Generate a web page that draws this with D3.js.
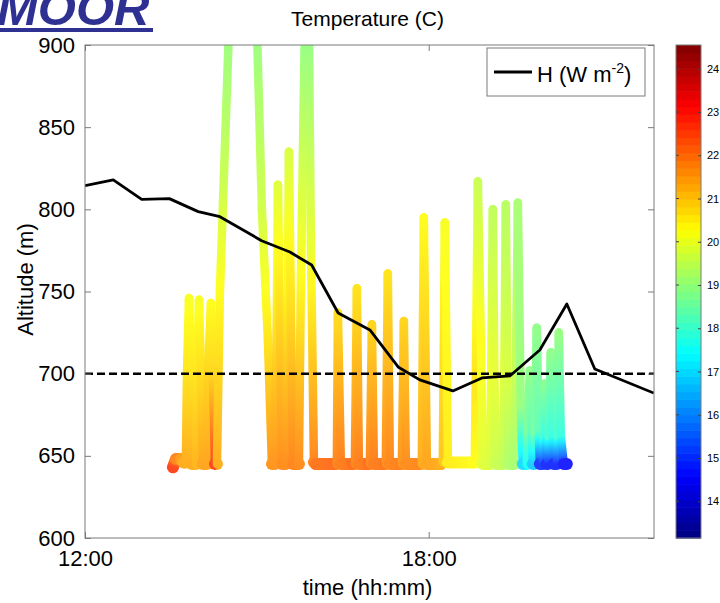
<!DOCTYPE html>
<html><head><meta charset="utf-8">
<script src="https://cdn.jsdelivr.net/npm/d3@7"></script>
<style>
body{margin:0;background:#fff}
svg{display:block}
text{font-family:"Liberation Sans",Arial,Helvetica,sans-serif}
</style>
</head><body>
<svg id="c" width="720" height="603"></svg>
<script>
// ---------- DATA ----------
// balloon trace: time (minutes after 12:00), altitude (m), temperature (C)
const traceMin = [92.1,95.3,100.5,103.7,
  105.7,106.8,108.9,111.0,112.0,
  116.2,117.3,119.4,121.5,123.5,
  127.7,128.8,131.9,134.0,136.1,
  138.2,141.3,145.5,150.8,
  180.1,185.3,191.6,195.8,
  198.9,201.0,202.1,204.2,206.3,
  210.4,212.5,213.6,215.7,217.8,
  224.1,226.2,230.3,234.5,236.6,239.8,
  241.9,261.8,
  263.8,264.9,268.0,280.6,
  282.7,284.8,286.9,297.3,
  298.4,300.5,302.6,314.1,
  315.1,317.2,319.3,330.9,
  331.9,334.0,336.1,350.7,
  352.8,354.9,358.1,372.7,
  374.8,376.9,380.1,406.2,
  408.3,409.4,411.5,414.6,416.7,
  424.0,425.5,427.2,428.8,430.3,
  437.6,439.2,440.8,442.4,443.9,
  449.2,451.3,453.4,456.5,457.5,458.6,
  462.8,463.8,465.9,468.0,469.1,
  470.1,471.2,473.2,475.3,476.4,
  479.5,480.6,481.6,482.7,483.7,
  484.8,485.8,487.9,490.0,491.0,
  494.2,495.2,496.3,498.4,501.5,504.7];
const traceAlt = [643,648,648,646,
  646,700,746,700,645,
  645,700,745,700,645,
  645,700,743,700,645,
  645,750,820,910,
  910,800,720,645,
  645,740,815,730,645,
  645,750,835,740,645,
  645,760,910,910,780,646,
  645,645,
  645,737,645,645,
  645,752,645,645,
  645,730,645,645,
  645,761,645,645,
  645,732,645,645,
  645,795,645,645,
  646,792,646,646,
  646,700,817,720,645,
  645,700,800,700,645,
  645,700,803,700,645,
  645,700,804,680,660,645,
  645,665,702,665,645,
  645,665,728,665,645,
  645,662,694,662,645,
  645,662,713,662,645,
  645,662,725,662,645,645];
const traceTemp = [22.6,21.8,21.5,21.3,
  21.3,20.6,20.2,20.6,21.3,
  21.2,20.6,20.2,20.7,21.4,
  21.4,20.8,20.3,20.8,22.6,
  21.3,20.3,19.6,19.0,
  19.0,19.7,20.6,21.6,
  21.6,20.5,19.9,20.8,21.7,
  21.7,20.4,19.8,20.7,21.8,
  21.7,20.3,18.9,18.9,20.0,21.8,
  22.0,22.1,
  21.8,20.7,21.9,22.1,
  21.8,20.6,21.9,22.1,
  21.8,20.8,21.9,22.0,
  21.7,20.6,21.8,21.9,
  21.6,20.8,21.7,21.8,
  21.3,20.3,21.4,21.3,
  21.0,20.2,20.5,20.3,
  20.3,20.6,19.6,20.3,19.9,
  19.8,20.1,19.5,20.0,19.6,
  19.5,19.9,19.4,19.8,19.3,
  19.2,19.6,19.2,19.0,17.8,17.0,
  17.5,18.6,18.9,18.3,16.8,
  16.8,18.6,18.9,18.3,15.0,
  15.0,18.0,18.8,17.8,14.8,
  14.8,18.0,18.9,17.8,14.8,
  14.8,18.0,19.0,17.8,14.6,14.6];
// sensible heat flux H (plotted in altitude-axis units)
const hMin   = [0,29.6,59.4,88.3,118.6,141.3,185.0,214.6,237.4,265.2,298.4,328.0,350.7,385.3,415.7,445.0,476.4,504.7,534.0,595.7];
const hValue = [814.4,817.9,806.1,806.5,798.6,795.5,780.9,774.0,766.1,736.9,726.6,704.1,696.2,689.5,697.4,698.6,714.4,742.4,702.8,688.2];
const refLevel = 700;
const yTicks = [600,650,700,750,800,850,900];
const xTicks = [0,360];
const xTickLabels = ["12:00","18:00"];
const cbTicks = [14,15,16,17,18,19,20,21,22,23,24];
const tempDomain = [13.15,24.55];
const timeDomain = [0,596];
const altDomain = [600,900];

// ---------- LAYOUT ----------
const L=85,R=654,T=45,B=538;
const svg=d3.select("#c");
const x=d3.scaleLinear().domain(timeDomain).range([L,R]);
const y=d3.scaleLinear().domain(altDomain).range([B,T]);
function jet(t){
  const c=v=>Math.max(0,Math.min(1,v));
  return d3.rgb(255*c(1.5-Math.abs(4*t-3)),255*c(1.5-Math.abs(4*t-2)),255*c(1.5-Math.abs(4*t-1))).toString();
}
const color=d3.scaleSequential(jet).domain(tempDomain);

const defs=svg.append("defs");
defs.append("clipPath").attr("id","plotclip").append("rect")
  .attr("x",L).attr("y",T).attr("width",R-L).attr("height",B-T);

// ---------- TRACE ----------
const gTrace=svg.append("g").attr("clip-path","url(#plotclip)").attr("opacity",0.87);
d3.range(traceMin.length-1).forEach(i=>{
  const x1=x(traceMin[i]),y1=y(traceAlt[i]),x2=x(traceMin[i+1]),y2=y(traceAlt[i+1]);
  const t1=traceTemp[i],t2=traceTemp[i+1];
  const ground=traceAlt[i]<=651&&traceAlt[i+1]<=651;
  const gid="sg"+i;
  const gr=defs.append("linearGradient").attr("id",gid).attr("gradientUnits","userSpaceOnUse")
    .attr("x1",x1).attr("y1",y1).attr("x2",x2+0.01).attr("y2",y2);
  [0,0.2,0.4,0.6,0.8,1].forEach(f=>{
    gr.append("stop").attr("offset",f).attr("stop-color",color(t1+(t2-t1)*f));
  });
  gTrace.append("line").attr("x1",x1).attr("y1",y1).attr("x2",x2).attr("y2",y2)
    .attr("stroke","url(#"+gid+")").attr("stroke-width",ground?12:8.5).attr("stroke-linecap","round");
});

// ---------- LINES ----------
const gLines=svg.append("g").attr("clip-path","url(#plotclip)");
gLines.append("line").attr("x1",x(timeDomain[0])).attr("x2",x(timeDomain[1]))
  .attr("y1",y(refLevel)).attr("y2",y(refLevel))
  .attr("stroke","#000").attr("stroke-width",2.5).attr("stroke-dasharray","8,4");
gLines.append("path").datum(d3.range(hMin.length))
  .attr("d",d3.line().x(i=>x(hMin[i])).y(i=>y(hValue[i])))
  .attr("fill","none").attr("stroke","#000").attr("stroke-width",2.8).attr("stroke-linejoin","round");

// ---------- AXES ----------
const frame="#7a7a7a";
svg.append("rect").attr("x",L).attr("y",T).attr("width",R-L).attr("height",B-T)
  .attr("fill","none").attr("stroke",frame).attr("stroke-width",1);
const yAxisL=d3.axisLeft(y).tickValues(yTicks).tickSizeInner(-6).tickSizeOuter(0).tickPadding(10);
const gy=svg.append("g").attr("transform",`translate(${L},0)`).call(yAxisL);
const yAxisR=d3.axisRight(y).tickValues(yTicks).tickSizeInner(-6).tickSizeOuter(0).tickFormat("");
const gyr=svg.append("g").attr("transform",`translate(${R},0)`).call(yAxisR);
const xAxisB=d3.axisBottom(x).tickValues(xTicks).tickSizeInner(-6).tickSizeOuter(0).tickPadding(12)
  .tickFormat((d,i)=>xTickLabels[i]);
const gx=svg.append("g").attr("transform",`translate(0,${B})`).call(xAxisB);
const xAxisT=d3.axisTop(x).tickValues(xTicks).tickSizeInner(-6).tickSizeOuter(0).tickFormat("");
const gxt=svg.append("g").attr("transform",`translate(0,${T})`).call(xAxisT);
[gy,gyr,gx,gxt].forEach(g=>{
  g.select(".domain").remove();
  g.selectAll(".tick line").attr("stroke",frame);
  g.selectAll("text").attr("fill","#000").style("font-size","22px").style("font-family",'"Liberation Sans",Arial,sans-serif');
});

svg.append("text").attr("x",(L+R)/2-2).attr("y",595).attr("text-anchor","middle")
  .style("font-size","22px").text("time (hh:mm)");
svg.append("text").attr("transform",`translate(33,${(T+B)/2-12}) rotate(-90)`).attr("text-anchor","middle")
  .style("font-size","22px").text("Altitude (m)");
svg.append("text").attr("x",(L+R)/2-2).attr("y",26).attr("text-anchor","middle")
  .style("font-size","21px").text("Temperature (C)");

// ---------- LEGEND ----------
const lg=svg.append("g");
lg.append("rect").attr("x",487).attr("y",48).attr("width",158).attr("height",48)
  .attr("fill","#fff").attr("stroke",frame).attr("stroke-width",1);
lg.append("line").attr("x1",494).attr("x2",532).attr("y1",72).attr("y2",72)
  .attr("stroke","#000").attr("stroke-width",2.8);
const lt=lg.append("text").attr("x",537).attr("y",82).style("font-size","22px");
lt.append("tspan").text("H (W m");
lt.append("tspan").attr("dy",-9).style("font-size","14px").text("-2");
lt.append("tspan").attr("dy",9).text(")");

// ---------- COLORBAR ----------
const cbX=676,cbW=25;
const cy=d3.scaleLinear().domain(tempDomain).range([B,T]);
const nBands=64;
svg.append("g").selectAll("rect").data(d3.range(nBands)).join("rect")
  .attr("x",cbX).attr("width",cbW)
  .attr("y",i=>cy(tempDomain[0]+(i+1)*(tempDomain[1]-tempDomain[0])/nBands))
  .attr("height",(B-T)/nBands+0.6)
  .attr("fill",i=>color(tempDomain[0]+(i+0.5)*(tempDomain[1]-tempDomain[0])/nBands));
svg.append("rect").attr("x",cbX).attr("y",T).attr("width",cbW).attr("height",B-T)
  .attr("fill","none").attr("stroke",frame).attr("stroke-width",1);
const cbAxis=d3.axisRight(cy).tickValues(cbTicks).tickSizeInner(3).tickSizeOuter(0).tickPadding(3);
const gcb=svg.append("g").attr("transform",`translate(${cbX+cbW},0)`).call(cbAxis);
gcb.select(".domain").remove();
gcb.selectAll(".tick line").attr("stroke","#444").attr("x2",-3);
gcb.selectAll("text").attr("fill","#000").style("font-size","11px");
svg.append("g").selectAll("line").data(cbTicks).join("line")
  .attr("x1",cbX).attr("x2",cbX+3).attr("y1",d=>cy(d)).attr("y2",d=>cy(d)).attr("stroke","#444");

// ---------- BRAND ----------
svg.append("text").attr("x",-3).attr("y",25)
  .style("font-size","49px").style("font-weight","bold").style("font-style","italic")
  .attr("fill","#2e3192").text("MOOR");
svg.append("rect").attr("x",0).attr("y",28).attr("width",153).attr("height",4).attr("fill","#2e3192");
</script>
</body></html>
